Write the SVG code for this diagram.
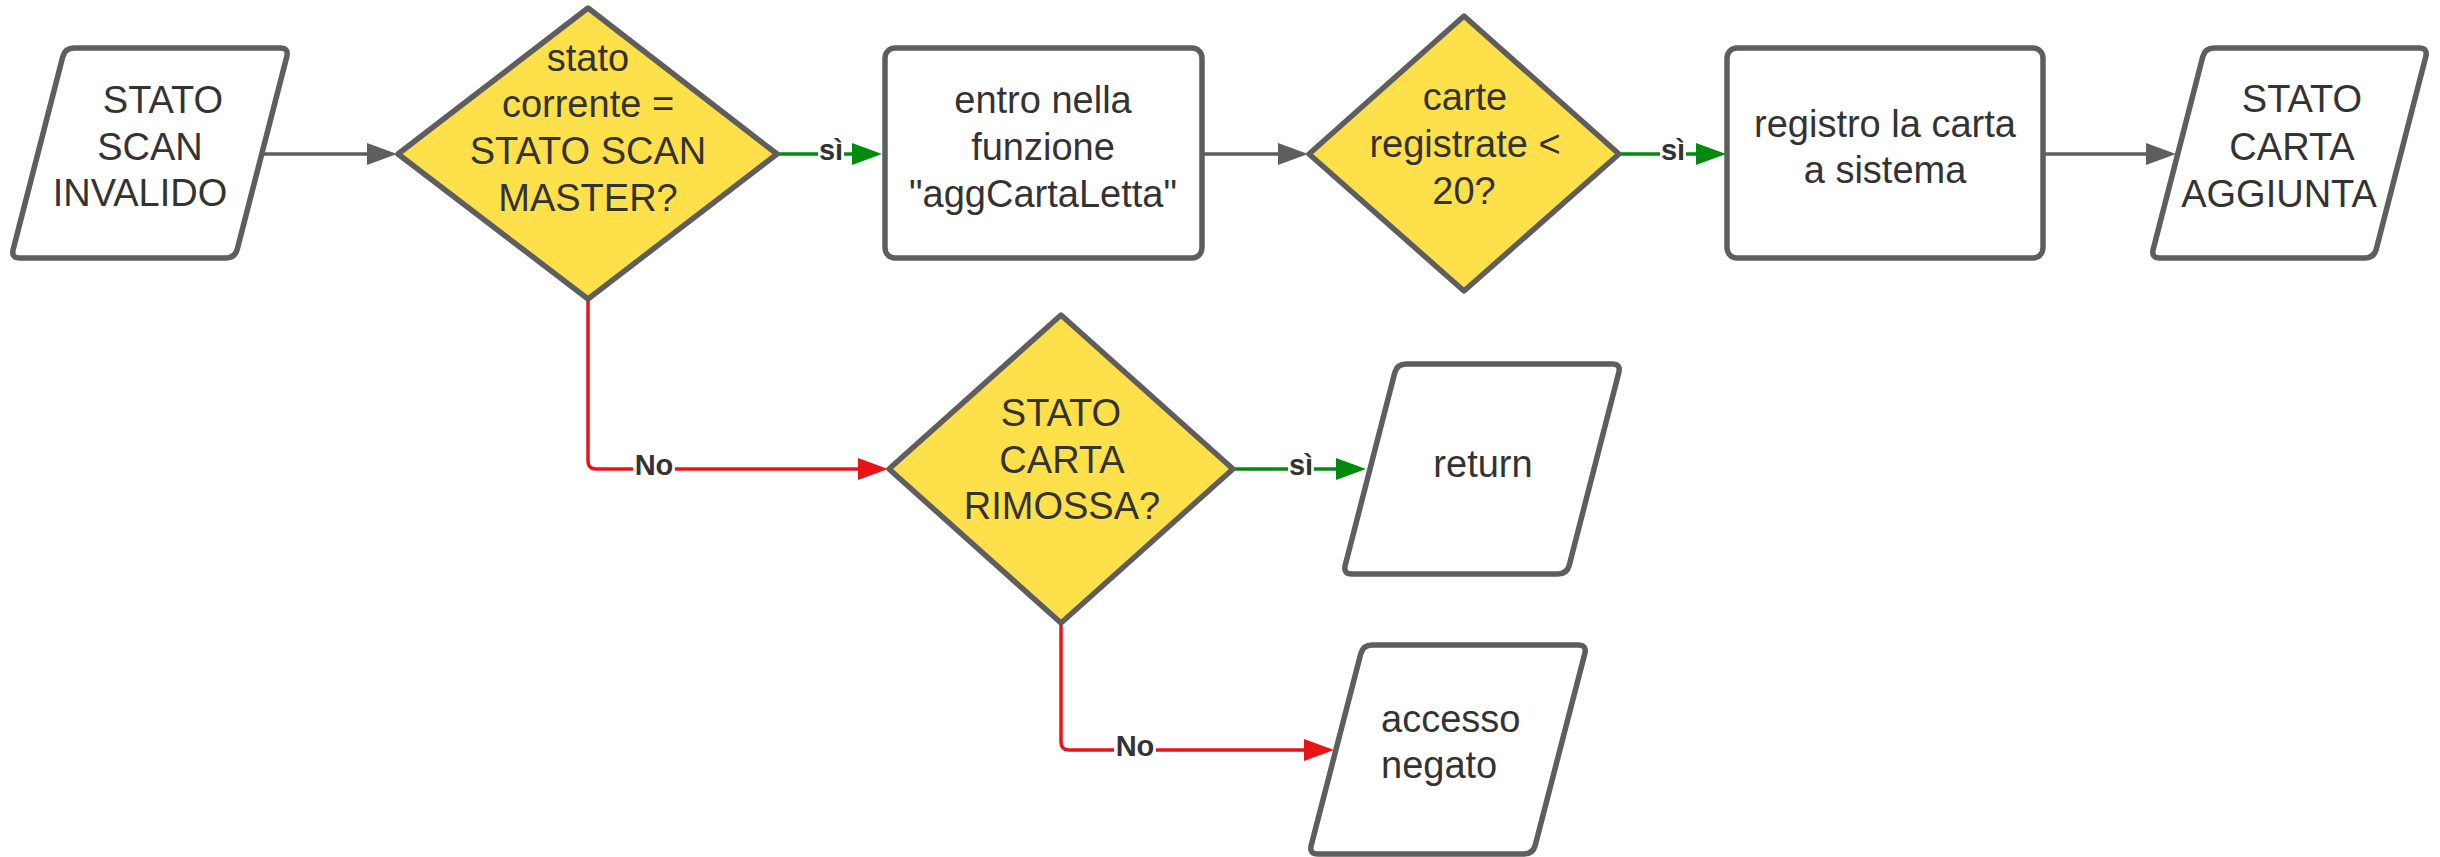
<svg xmlns="http://www.w3.org/2000/svg" width="2440" height="857" viewBox="0 0 2440 857">
<style>
.shape{fill:#ffffff;stroke:#5e5e5e;stroke-width:5.5;stroke-linejoin:round}
.dia{fill:#fee04a;stroke:#5e5e5e;stroke-width:5.5;stroke-linejoin:round}
.t{font-family:"Liberation Sans",Arial,sans-serif;font-size:38px;fill:#333333;text-anchor:middle}
.ts{font-family:"Liberation Sans",Arial,sans-serif;font-size:38px;fill:#333333;text-anchor:start}
.lbl{font-family:"Liberation Sans",Arial,sans-serif;font-size:29px;font-weight:bold;fill:#333333;text-anchor:middle}
.gray{fill:none;stroke:#5e5e5e;stroke-width:3.5}
.green{fill:none;stroke:#008a0e;stroke-width:3.5}
.red{fill:none;stroke:#e81416;stroke-width:3.5}
.gap{fill:#ffffff}
</style>
<defs>
<marker id="ag" viewBox="0 0 30 22" refX="1" refY="11" markerWidth="30" markerHeight="22" markerUnits="userSpaceOnUse" orient="auto"><path d="M0,0 L30,11 L0,22 Z" fill="#5e5e5e"/></marker>
<marker id="agr" viewBox="0 0 30 22" refX="1" refY="11" markerWidth="30" markerHeight="22" markerUnits="userSpaceOnUse" orient="auto"><path d="M0,0 L30,11 L0,22 Z" fill="#008a0e"/></marker>
<marker id="ar" viewBox="0 0 30 22" refX="1" refY="11" markerWidth="30" markerHeight="22" markerUnits="userSpaceOnUse" orient="auto"><path d="M0,0 L30,11 L0,22 Z" fill="#e81416"/></marker>
</defs>
<rect width="2440" height="857" fill="#ffffff"/>

<g id="connectors">
<path class="gray" d="M263,154 H368" marker-end="url(#ag)"/>
<path class="green" d="M777,154 H853" marker-end="url(#agr)"/>
<path class="gray" d="M1202,154 H1279" marker-end="url(#ag)"/>
<path class="green" d="M1619,154 H1697" marker-end="url(#agr)"/>
<path class="gray" d="M2043,154 H2147" marker-end="url(#ag)"/>
<path class="red" d="M588,299 V461 Q588,469 596,469 H859" marker-end="url(#ar)"/>
<path class="green" d="M1233,469 H1337" marker-end="url(#agr)"/>
<path class="red" d="M1061,623 V742 Q1061,750 1069,750 H1305" marker-end="url(#ar)"/>
<rect class="gap" x="818" y="140" width="26" height="26"/>
<text class="lbl" x="831" y="160">sì</text>
<rect class="gap" x="1660" y="140" width="26" height="26"/>
<text class="lbl" x="1673" y="160">sì</text>
<rect class="gap" x="633" y="453" width="42" height="26"/>
<text class="lbl" x="654" y="475">No</text>
<rect class="gap" x="1288" y="455" width="26" height="26"/>
<text class="lbl" x="1301" y="475">sì</text>
<rect class="gap" x="1114" y="734" width="42" height="26"/>
<text class="lbl" x="1135" y="756">No</text>
</g>

<g id="n1">
<path class="shape" d="M74,48 L280,48 Q289,48 286.76,56.71 L237.24,249.29 Q235,258 226,258 L20,258 Q11,258 13.24,249.29 L62.76,56.71 Q65,48 74,48 Z"/>
<text class="t" x="163" y="113">STATO</text>
<text class="t" x="150" y="160">SCAN</text>
<text class="t" x="140" y="206">INVALIDO</text>
</g>

<g id="d1">
<polygon class="dia" points="588,8 777,154 588,299 398,154"/>
<text class="t" x="588" y="71">stato</text>
<text class="t" x="588" y="117">corrente =</text>
<text class="t" x="588" y="164">STATO SCAN</text>
<text class="t" x="588" y="211">MASTER?</text>
</g>

<g id="n2">
<rect class="shape" x="885" y="48" width="317" height="210" rx="10"/>
<text class="t" x="1043" y="113">entro nella</text>
<text class="t" x="1043" y="160">funzione</text>
<text class="t" x="1043" y="207">"aggCartaLetta"</text>
</g>

<g id="d2">
<polygon class="dia" points="1464,16 1619,154 1464,291 1309,154"/>
<text class="t" x="1465" y="110">carte</text>
<text class="t" x="1465" y="157">registrate &lt;</text>
<text class="t" x="1464" y="204">20?</text>
</g>

<g id="n3">
<rect class="shape" x="1727" y="48" width="316" height="210" rx="10"/>
<text class="t" x="1885" y="137">registro la carta</text>
<text class="t" x="1885" y="183">a sistema</text>
</g>

<g id="n4">
<path class="shape" d="M2214,48 L2419,48 Q2428,48 2425.76,56.71 L2376.24,249.29 Q2374,258 2365,258 L2160,258 Q2151,258 2153.24,249.29 L2202.76,56.71 Q2205,48 2214,48 Z"/>
<text class="t" x="2302" y="112">STATO</text>
<text class="t" x="2292" y="160">CARTA</text>
<text class="t" x="2279" y="207">AGGIUNTA</text>
</g>

<g id="d3">
<polygon class="dia" points="1061,315 1233,469 1061,623 889,469"/>
<text class="t" x="1061" y="426">STATO</text>
<text class="t" x="1062" y="473">CARTA</text>
<text class="t" x="1062" y="519">RIMOSSA?</text>
</g>

<g id="n5">
<path class="shape" d="M1406,364 L1612,364 Q1621,364 1618.76,372.71 L1569.24,565.29 Q1567,574 1558,574 L1352,574 Q1343,574 1345.24,565.29 L1394.76,372.71 Q1397,364 1406,364 Z"/>
<text class="t" x="1483" y="477">return</text>
</g>

<g id="n6">
<path class="shape" d="M1372,645 L1578,645 Q1587,645 1584.76,653.71 L1535.24,845.29 Q1533,854 1524,854 L1318,854 Q1309,854 1311.24,845.29 L1360.76,653.71 Q1363,645 1372,645 Z"/>
<text class="ts" x="1381" y="732">accesso</text>
<text class="ts" x="1381" y="778">negato</text>
</g>
</svg>
